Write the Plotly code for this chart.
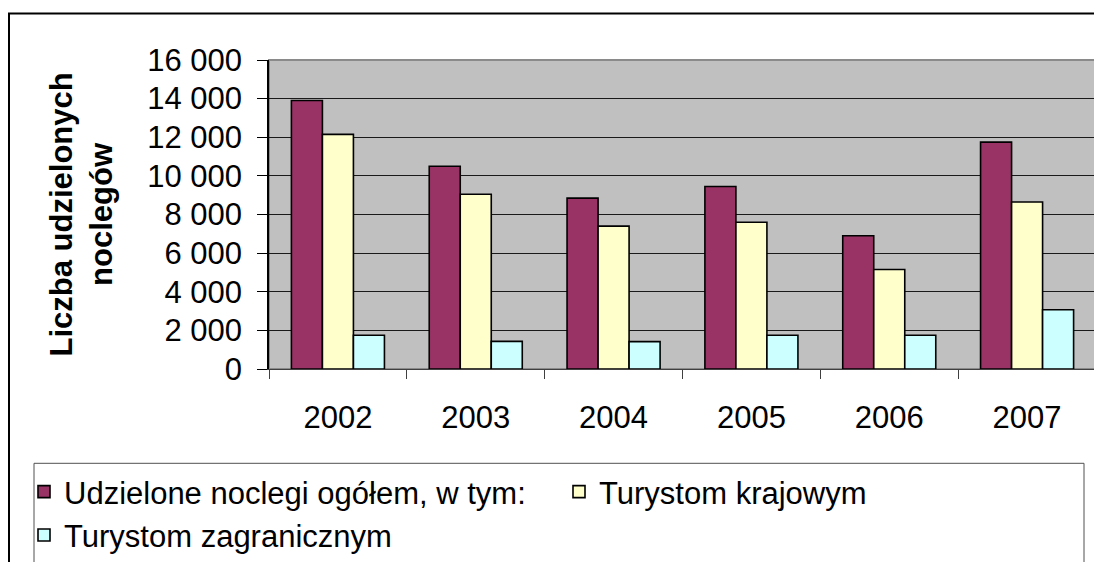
import plotly.graph_objects as go

years = ["2002", "2003", "2004", "2005", "2006", "2007"]
ogolem = [13900, 10500, 8850, 9450, 6900, 11750]
krajowym = [12150, 9050, 7400, 7600, 5150, 8650]
zagranicznym = [1750, 1430, 1420, 1750, 1750, 3070]

series_names = ["Udzielone noclegi ogółem, w tym:", "Turystom krajowym", "Turystom zagranicznym"]
series_colors = ["#993366", "#FFFFCC", "#CCFFFF"]
y_title = "Liczba udzielonych<br>noclegów"

FONT = "Liberation Sans, Arial, sans-serif"

# page body has an 8px margin; figure sized to fill the rest of the window
OFF = 8
W, H = 1102 - OFF, 562 - OFF
PL, PR, PT, PB = 269, 1096, 60, 369   # plot area in screen pixels
L, R, T, B = PL - OFF, W - (PR - OFF), PT - OFF, H - (PB - OFF)
pw, ph = PR - PL, PB - PT

def px(x):
    return (x - PL) / pw

def py(y):
    return (PB - y) / ph

fig = go.Figure()
for name, vals, col in zip(series_names, [ogolem, krajowym, zagranicznym], series_colors):
    fig.add_trace(go.Bar(
        x=years, y=vals, name=name,
        marker=dict(color=col, line=dict(color="black", width=1.6)),
    ))

fig.update_layout(
    width=W, height=H,
    margin=dict(l=L, r=R, t=T, b=B, autoexpand=False),
    paper_bgcolor="white",
    plot_bgcolor="#C0C0C0",
    barmode="group",
    bargap=0.325,
    bargroupgap=0,
    separators=", ",
    font=dict(family=FONT, size=31, color="black"),
    showlegend=True,
    legend=dict(
        orientation="h",
        x=px(24), xanchor="left",
        y=py(465), yanchor="top",
        bgcolor="rgba(0,0,0,0)",
        borderwidth=0,
        font=dict(family=FONT, size=31, color="black"),
        entrywidth=490, entrywidthmode="pixels",
        itemclick=False,
    ),
    xaxis=dict(
        type="category",
        showgrid=False,
        showline=True, linecolor="#404040", linewidth=1,
        ticks="outside", ticklen=9, tickcolor="#404040", tickwidth=1,
        tickson="boundaries",
        ticklabelstandoff=21,
        tickfont=dict(family=FONT, size=31),
    ),
    yaxis=dict(
        range=[0, 16000],
        tickvals=[0, 2000, 4000, 6000, 8000, 10000, 12000, 14000, 16000],
        tickformat=",d",
        showgrid=True, gridcolor="#1a1a1a", gridwidth=1,
        zeroline=False,
        showline=True, linecolor="black", linewidth=1.5,
        ticks="outside", ticklen=10, tickcolor="black", tickwidth=1,
        ticklabelstandoff=9,
        tickfont=dict(family=FONT, size=31),
    ),
    shapes=[
        # plot area border
        dict(type="rect", xref="paper", yref="paper", x0=0, x1=1, y0=0, y1=1,
             line=dict(color="#8a8a8a", width=2), layer="below"),
        # outer chart border
        dict(type="rect", xref="paper", yref="paper", x0=px(9), x1=px(1120), y0=py(620), y1=py(13.5),
             line=dict(color="black", width=2)),
        # legend box
        dict(type="rect", xref="paper", yref="paper", x0=px(34), x1=px(1084), y0=py(620), y1=py(463.3),
             line=dict(color="#505050", width=1)),
    ],
    annotations=[
        dict(text="<b>" + y_title + "</b>", xref="paper", yref="paper",
             x=px(81), y=0.5, xanchor="center", yanchor="middle",
             textangle=-90, showarrow=False,
             font=dict(family=FONT, size=31, color="black")),
    ],
)

fig.write_html("out.html")
